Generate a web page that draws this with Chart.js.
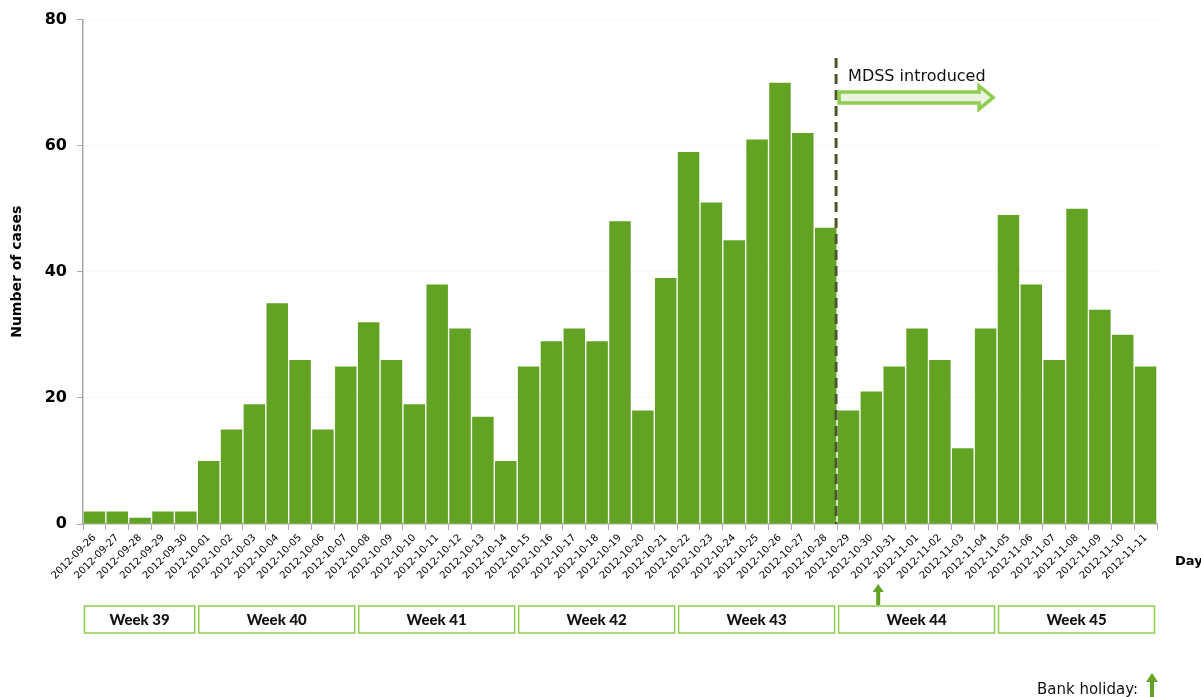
<!DOCTYPE html>
<html>
<head>
<meta charset="utf-8">
<script src="https://cdn.jsdelivr.net/npm/chart.js@4/dist/chart.umd.min.js"></script>
<style>
  html, body { margin: 0; padding: 0; background: #fff; }
  #wrap { width: 1201px; height: 697px; }
</style>
</head>
<body>
<div id="wrap"><canvas id="c" width="1201" height="697"></canvas></div>
<script>
// ---- data ----
const days = [
  '2012-09-26','2012-09-27','2012-09-28','2012-09-29','2012-09-30',
  '2012-10-01','2012-10-02','2012-10-03','2012-10-04','2012-10-05','2012-10-06','2012-10-07',
  '2012-10-08','2012-10-09','2012-10-10','2012-10-11','2012-10-12','2012-10-13','2012-10-14',
  '2012-10-15','2012-10-16','2012-10-17','2012-10-18','2012-10-19','2012-10-20','2012-10-21',
  '2012-10-22','2012-10-23','2012-10-24','2012-10-25','2012-10-26','2012-10-27','2012-10-28',
  '2012-10-29','2012-10-30','2012-10-31','2012-11-01','2012-11-02','2012-11-03','2012-11-04',
  '2012-11-05','2012-11-06','2012-11-07','2012-11-08','2012-11-09','2012-11-10','2012-11-11'
];
const cases = [
  2,2,1,2,2,
  10,15,19,35,26,15,25,
  32,26,19,38,31,17,10,
  25,29,31,29,48,18,39,
  59,51,45,61,70,62,47,
  18,21,25,31,26,12,31,
  49,38,26,50,34,30,25
];
const yTicks = [0,20,40,60,80];
const weekLabels = ['Week 39','Week 40','Week 41','Week 42','Week 43','Week 44','Week 45'];
const weekDayCounts = [5,7,7,7,7,7,7];
const mdssDay = '2012-10-29';
const mdssLabel = 'MDSS introduced';
const bankHolidayPos = 34.3; // position in day-index units
const bankHolidayLabel = 'Bank holiday:';

const GREEN = '#63a323';
const LIGHT_GREEN = '#8fcc4f';
const FONT = "'DejaVu Sans', Verdana, sans-serif";

function upArrow(ctx, x, yTop, yBottom, headW, headH, shaftW, color) {
  ctx.save();
  ctx.fillStyle = color;
  ctx.beginPath();
  ctx.moveTo(x, yTop);
  ctx.lineTo(x + headW / 2, yTop + headH);
  ctx.lineTo(x + shaftW / 2, yTop + headH);
  ctx.lineTo(x + shaftW / 2, yBottom);
  ctx.lineTo(x - shaftW / 2, yBottom);
  ctx.lineTo(x - shaftW / 2, yTop + headH);
  ctx.lineTo(x - headW / 2, yTop + headH);
  ctx.closePath();
  ctx.fill();
  ctx.restore();
}

const annot = {
  id: 'annot',
  afterDraw(chart) {
    const ctx = chart.ctx;
    const xs = chart.scales.x;
    const area = chart.chartArea;
    const w = (xs.getPixelForValue(1) - xs.getPixelForValue(0));

    // y axis title
    ctx.save();
    ctx.translate(17, (area.top + area.bottom) / 2);
    ctx.rotate(-Math.PI / 2);
    ctx.font = "bold 14px " + FONT;
    ctx.fillStyle = '#000';
    ctx.textAlign = 'center';
    ctx.textBaseline = 'middle';
    ctx.fillText('Number of cases', 0, 0);
    ctx.restore();

    // "Day"
    ctx.save();
    ctx.font = "bold 13px " + FONT;
    ctx.fillStyle = '#000';
    ctx.textAlign = 'left';
    ctx.textBaseline = 'middle';
    ctx.fillText('Day', area.right + 18, 562);
    ctx.restore();

    // week boxes
    let idx = 0;
    ctx.save();
    for (let i = 0; i < weekLabels.length; i++) {
      const l = xs.getPixelForValue(idx) - w / 2;
      idx += weekDayCounts[i];
      const r = xs.getPixelForValue(idx - 1) + w / 2;
      const x0 = l + 1.5, x1 = r - 2.5;
      ctx.strokeStyle = LIGHT_GREEN;
      ctx.lineWidth = 1.5;
      ctx.strokeRect(x0, 606, x1 - x0, 27);
      ctx.fillStyle = '#111';
      ctx.font = "900 15px Lato, 'Open Sans', sans-serif";
      ctx.textAlign = 'center';
      ctx.textBaseline = 'middle';
      ctx.fillText(weekLabels[i], (x0 + x1) / 2, 620);
    }
    ctx.restore();

    // MDSS dashed line
    const mi = days.indexOf(mdssDay);
    const mx = xs.getPixelForValue(mi) - w / 2 - 1;
    ctx.save();
    ctx.strokeStyle = '#4a5829';
    ctx.lineWidth = 3;
    ctx.setLineDash([10, 6]);
    ctx.beginPath();
    ctx.moveTo(mx, 58);
    ctx.lineTo(mx, area.bottom);
    ctx.stroke();
    ctx.restore();

    // MDSS label
    ctx.save();
    ctx.font = "16px " + FONT;
    ctx.fillStyle = '#111';
    ctx.textAlign = 'left';
    ctx.textBaseline = 'alphabetic';
    ctx.fillText(mdssLabel, mx + 12, 81);
    ctx.restore();

    // hollow arrow
    const ax0 = mx + 3, ax1 = ax0 + 140, tip = ax0 + 154;
    ctx.save();
    ctx.beginPath();
    ctx.moveTo(ax0, 92);
    ctx.lineTo(ax1, 92);
    ctx.lineTo(ax1, 86);
    ctx.lineTo(tip, 97.5);
    ctx.lineTo(ax1, 109);
    ctx.lineTo(ax1, 103);
    ctx.lineTo(ax0, 103);
    ctx.closePath();
    ctx.fillStyle = '#eaf2e0';
    ctx.fill();
    ctx.strokeStyle = LIGHT_GREEN;
    ctx.lineWidth = 3.5;
    ctx.lineJoin = 'miter';
    ctx.stroke();
    ctx.restore();

    // bank holiday arrow below axis
    const bx = xs.getPixelForValue(bankHolidayPos);
    upArrow(ctx, bx, 584, 605, 11, 8, 4, GREEN);

    // legend
    ctx.save();
    ctx.font = "15px " + FONT;
    ctx.fillStyle = '#111';
    ctx.textAlign = 'right';
    ctx.textBaseline = 'alphabetic';
    ctx.fillText(bankHolidayLabel, 1138, 694);
    ctx.restore();
    upArrow(ctx, 1152, 673, 697, 12, 9, 4, GREEN);
  }
};

new Chart(document.getElementById('c'), {
  type: 'bar',
  data: {
    labels: days,
    datasets: [{
      data: cases,
      backgroundColor: GREEN,
      borderWidth: 0,
      barPercentage: 0.94,
      categoryPercentage: 1.0
    }]
  },
  options: {
    responsive: false,
    animation: false,
    devicePixelRatio: 1,
    layout: { padding: { top: 19, right: 44, left: 0, bottom: 0 } },
    plugins: { legend: { display: false }, tooltip: { enabled: false } },
    scales: {
      x: {
        afterFit(s) { s.height = 173; },
        grid: { offset: true, drawOnChartArea: false, tickLength: 6, color: '#aaaaaa' },
        border: { color: '#aaaaaa', width: 1.5 },
        ticks: {
          autoSkip: false, maxRotation: 45, minRotation: 45,
          font: { family: FONT, size: 10 }, color: '#000', padding: 2
        }
      },
      y: {
        min: 0, max: 80,
        afterFit(s) { s.width = 83; },
        afterBuildTicks(s) { s.ticks = yTicks.map(v => ({ value: v })); },
        grid: {
          color: ctx => ctx.tick && ctx.tick.value === 0 ? 'rgba(0,0,0,0)' : '#e6e6c8',
          tickColor: '#aaaaaa', tickLength: 6, lineWidth: 1
        },
        border: { color: '#aaaaaa', width: 1.5, dash: [1, 3] },
        ticks: {
          font: { family: FONT, size: 16, weight: 'bold' }, color: '#000', padding: 10
        }
      }
    }
  },
  plugins: [annot]
});
</script>
</body>
</html>
